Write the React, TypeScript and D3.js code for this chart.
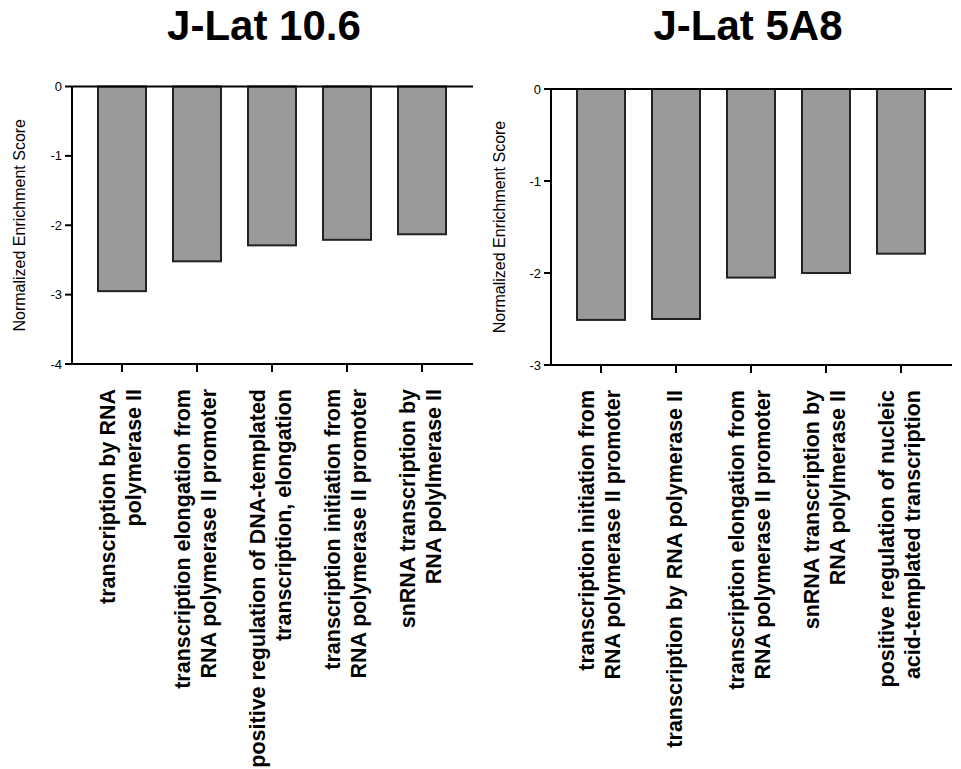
import React from "react";
import * as d3 from "d3";

// GO term enrichment (NES) for two J-Lat clones
const titleLeft = "J-Lat 10.6";
const titleRight = "J-Lat 5A8";

const termsLeft: string[][] = [
  ["transcription by RNA", "polymerase II"],
  ["transcription elongation from", "RNA polymerase II promoter"],
  ["positive regulation of DNA-templated", "transcription, elongation"],
  ["transcription initiation from", "RNA polymerase II promoter"],
  ["snRNA transcription by", "RNA polylmerase II"],
];
const nesLeft = [-2.95, -2.52, -2.29, -2.21, -2.13];
const ticksLeft = [0, -1, -2, -3, -4];

const termsRight: string[][] = [
  ["transcription initiation from", "RNA polymerase II promoter"],
  ["transcription by RNA polymerase II"],
  ["transcription elongation from", "RNA polymerase II promoter"],
  ["snRNA transcription by", "RNA polylmerase II"],
  ["positive regulation of nucleic", "acid-templated transcription"],
];
const nesRight = [-2.51, -2.5, -2.05, -2.0, -1.79];
const ticksRight = [0, -1, -2, -3];

const yLabel = "Normalized Enrichment Score";
const FONT = "'Liberation Sans', Arial, Helvetica, sans-serif";

type PanelProps = {
  title: string;
  titleX: number;
  terms: string[][];
  values: number[];
  ticks: number[];
  x0: number;
  x1: number;
  yTop: number;
  yBottom: number;
  yLabelX: number;
};

function Panel({ title, titleX, terms, values, ticks, x0, x1, yTop, yBottom, yLabelX }: PanelProps) {
  const keys = terms.map((t) => t.join(" "));
  const x = d3.scalePoint<string>().domain(keys).range([x0, x1]).padding(2 / 3);
  const y = d3
    .scaleLinear()
    .domain([d3.min(ticks) as number, 0])
    .range([yBottom, yTop]);
  const barW = 48;
  const lineGap = 26;
  const labelTop = yBottom + 25;

  return (
    <g>
      <text
        x={titleX}
        y={40}
        textAnchor="middle"
        fontFamily={FONT}
        fontWeight="bold"
        fontSize={42}
        fill="#000"
      >
        {title}
      </text>

      <text
        transform={`translate(${yLabelX},${(yTop + yBottom) / 2}) rotate(-90)`}
        textAnchor="middle"
        dominantBaseline="central"
        fontFamily={FONT}
        fontSize={16}
        fill="#000"
      >
        {yLabel}
      </text>

      {values.map((v, i) => {
        const cx = x(keys[i]) as number;
        return (
          <rect
            key={keys[i]}
            x={cx - barW / 2}
            y={y(0)}
            width={barW}
            height={y(v) - y(0)}
            fill="#9a9a9a"
            stroke="#222"
            strokeWidth={2}
          />
        );
      })}

      {/* y axis */}
      <line x1={x0} x2={x0} y1={y(0)} y2={yBottom} stroke="#000" strokeWidth={2} />
      {ticks.map((t) => (
        <g key={t}>
          <line x1={x0 - 7} x2={x0} y1={y(t)} y2={y(t)} stroke="#000" strokeWidth={2} />
          <text
            x={x0 - 10}
            y={y(t)}
            textAnchor="end"
            dominantBaseline="central"
            fontFamily={FONT}
            fontSize={13}
            fill="#000"
          >
            {t === 0 ? "0" : `-${Math.abs(t)}`}
          </text>
        </g>
      ))}

      {/* zero line and bottom axis */}
      <line x1={x0} x2={x1 + 1} y1={y(0)} y2={y(0)} stroke="#000" strokeWidth={2} />
      <line x1={x0} x2={x1 + 1} y1={yBottom} y2={yBottom} stroke="#000" strokeWidth={2} />
      {keys.map((k) => (
        <line
          key={k}
          x1={x(k) as number}
          x2={x(k) as number}
          y1={yBottom}
          y2={yBottom + 8}
          stroke="#000"
          strokeWidth={2}
        />
      ))}

      {terms.map((lines, i) => {
        const cx = x(keys[i]) as number;
        return (
          <g key={keys[i]}>
            {lines.map((ln, j) => {
              const off = (j - (lines.length - 1) / 2) * lineGap + 6;
              return (
                <text
                  key={j}
                  transform={`translate(${cx + off},${labelTop}) rotate(-90)`}
                  textAnchor="end"
                  fontFamily={FONT}
                  fontWeight="bold"
                  fontSize={21.5}
                  fill="#000"
                >
                  {ln}
                </text>
              );
            })}
          </g>
        );
      })}
    </g>
  );
}

export default function App() {
  return (
    <svg
      width={961}
      height={769}
      style={{ position: "absolute", left: 0, top: 0, background: "#fff" }}
    >
      <rect width={961} height={769} fill="#fff" />
      <Panel
        title={titleLeft}
        titleX={264}
        terms={termsLeft}
        values={nesLeft}
        ticks={ticksLeft}
        x0={72}
        x1={472}
        yTop={86.5}
        yBottom={364}
        yLabelX={19}
      />
      <Panel
        title={titleRight}
        titleX={748}
        terms={termsRight}
        values={nesRight}
        ticks={ticksRight}
        x0={551}
        x1={951}
        yTop={89}
        yBottom={365}
        yLabelX={499}
      />
    </svg>
  );
}
